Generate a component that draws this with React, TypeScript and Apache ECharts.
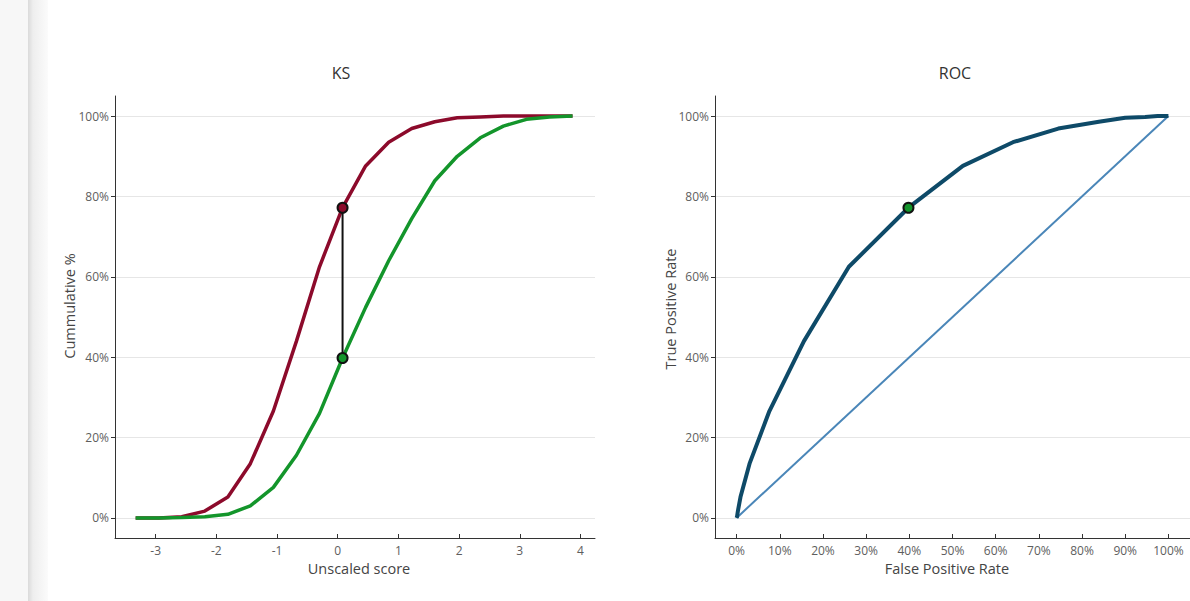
import React, { useEffect, useRef } from "react";
import * as echarts from "echarts";

const scores = [-3.33, -2.95, -2.57, -2.19, -1.81, -1.44, -1.06, -0.68, -0.3, 0.08, 0.46, 0.84, 1.22, 1.6, 1.97, 2.35, 2.73, 3.11, 3.49, 3.87];
const badCum = [0, 0, 0.3, 1.7, 5.2, 13.5, 26.6, 44, 62.5, 77.2, 87.6, 93.5, 96.9, 98.6, 99.6, 99.8, 100, 100, 100, 100];
const goodCum = [0, 0, 0.1, 0.3, 0.9, 3, 7.6, 15.6, 26, 39.8, 52.4, 64, 74.5, 83.9, 90, 94.6, 97.5, 99.2, 99.8, 100];
const ksIndex = 9;
const scoreTicks = [-3, -2, -1, 0, 1, 2, 3, 4];
const pctTicksY = [0, 20, 40, 60, 80, 100];
const pctTicksX = [0, 10, 20, 30, 40, 50, 60, 70, 80, 90, 100];
const diagonal = [[0, 0], [100, 100]];

const RED = "#8c0a2b";
const GREEN = "#13952b";
const ROC = "#0e4a68";
const DIAG = "#4a86b8";
const FONT = "'Open Sans', Roboto, sans-serif";

export default function App() {
  const ref = useRef<HTMLDivElement>(null);
  useEffect(() => {
    if (!ref.current) return;
    const chart = echarts.init(ref.current, undefined, { renderer: "svg" });
    const pctFmt = (v: number) => v + "%";
    const yAxisBase = (gridIndex: number) => ({
      type: "value",
      gridIndex,
      min: -5,
      max: 105,
      axisLine: { show: true, onZero: false, lineStyle: { color: "#333", width: 1 } },
      axisTick: { show: true, inside: false, length: 4, customValues: pctTicksY, lineStyle: { color: "#333" } },
      axisLabel: { customValues: pctTicksY, formatter: pctFmt, color: "#5e5e5e", fontSize: 12, fontFamily: FONT, margin: 6 },
      splitLine: { show: true, lineStyle: { color: "#e6e6e6", width: 1 } },
    });
    const ksPoint = [scores[ksIndex], badCum[ksIndex]];
    const ksPointG = [scores[ksIndex], goodCum[ksIndex]];
    const rocData = goodCum.map((g, i) => [g, badCum[i]]);
    chart.setOption({
      animation: false,
      backgroundColor: "#fff",
      grid: [
        { left: 115, top: 96, width: 480, height: 442 },
        { left: 715, top: 96, width: 480, height: 442 },
      ],
      xAxis: [
        {
          type: "value",
          gridIndex: 0,
          min: -3.67,
          max: 4.24,
          axisLine: { show: true, onZero: false, lineStyle: { color: "#333", width: 1 } },
          axisTick: { show: true, inside: true, length: 4, customValues: scoreTicks, lineStyle: { color: "#333" } },
          axisLabel: { customValues: scoreTicks, color: "#5e5e5e", fontSize: 12, fontFamily: FONT, margin: 5, lineHeight: 14 },
          splitLine: { show: false },
        },
        {
          type: "value",
          gridIndex: 1,
          min: -5,
          max: 105,
          axisLine: { show: true, onZero: false, lineStyle: { color: "#333", width: 1 } },
          axisTick: { show: true, inside: true, length: 4, customValues: pctTicksX, lineStyle: { color: "#333" } },
          axisLabel: { customValues: pctTicksX, formatter: pctFmt, color: "#5e5e5e", fontSize: 12, fontFamily: FONT, margin: 5, lineHeight: 14 },
          splitLine: { show: false },
        },
      ],
      yAxis: [yAxisBase(0), yAxisBase(1)],
      graphic: [
        { type: "rect", shape: { x: 0, y: 0, width: 28, height: 601 }, style: { fill: "#f7f7f7" }, silent: true },
        {
          type: "rect",
          shape: { x: 28, y: 0, width: 20, height: 601 },
          style: {
            fill: new echarts.graphic.LinearGradient(0, 0, 1, 0, [
              { offset: 0, color: "#dadada" },
              { offset: 0.25, color: "#eeeeee" },
              { offset: 1, color: "#fbfbfb" },
            ]),
          },
          silent: true,
        },
        { type: "text", x: 341, y: 73, style: { text: "KS", fontSize: 16, fill: "#333", fontFamily: FONT, align: "center", verticalAlign: "middle" } },
        { type: "text", x: 955, y: 73, style: { text: "ROC", fontSize: 16, fill: "#333", fontFamily: FONT, align: "center", verticalAlign: "middle" } },
        { type: "text", x: 359, y: 568, style: { text: "Unscaled score", fontSize: 14.5, lineHeight: 15, fill: "#444", fontFamily: FONT, align: "center", verticalAlign: "middle" } },
        { type: "text", x: 947, y: 568, style: { text: "False Positive Rate", fontSize: 14.5, lineHeight: 15, fill: "#444", fontFamily: FONT, align: "center", verticalAlign: "middle" } },
        { type: "text", x: 69, y: 306, rotation: Math.PI / 2, style: { text: "Cummulative %", fontSize: 14.5, fill: "#444", fontFamily: FONT, align: "center", verticalAlign: "middle" } },
        { type: "text", x: 670, y: 309, rotation: Math.PI / 2, style: { text: "True Positive Rate", fontSize: 14.5, fill: "#444", fontFamily: FONT, align: "center", verticalAlign: "middle" } },
      ],
      series: [
        {
          type: "line",
          xAxisIndex: 0,
          yAxisIndex: 0,
          data: scores.map((s, i) => [s, badCum[i]]),
          showSymbol: false,
          lineStyle: { color: RED, width: 3.5 },
          z: 3,
        },
        {
          type: "line",
          xAxisIndex: 0,
          yAxisIndex: 0,
          data: scores.map((s, i) => [s, goodCum[i]]),
          showSymbol: false,
          lineStyle: { color: GREEN, width: 3.5 },
          z: 3,
        },
        {
          type: "line",
          xAxisIndex: 0,
          yAxisIndex: 0,
          data: [ksPointG, ksPoint],
          showSymbol: false,
          lineStyle: { color: "#111", width: 2 },
          z: 4,
        },
        {
          type: "scatter",
          xAxisIndex: 0,
          yAxisIndex: 0,
          data: [
            { value: ksPoint, itemStyle: { color: RED } },
            { value: ksPointG, itemStyle: { color: GREEN } },
          ],
          symbolSize: 10,
          itemStyle: { borderColor: "#111", borderWidth: 2, opacity: 1 },
          z: 5,
        },
        {
          type: "line",
          xAxisIndex: 1,
          yAxisIndex: 1,
          data: diagonal,
          showSymbol: false,
          lineStyle: { color: DIAG, width: 2 },
          z: 2,
        },
        {
          type: "line",
          xAxisIndex: 1,
          yAxisIndex: 1,
          data: rocData,
          showSymbol: false,
          lineStyle: { color: ROC, width: 4 },
          z: 3,
        },
        {
          type: "scatter",
          xAxisIndex: 1,
          yAxisIndex: 1,
          data: [{ value: rocData[ksIndex], itemStyle: { color: GREEN } }],
          symbolSize: 10,
          itemStyle: { borderColor: "#111", borderWidth: 2, opacity: 1 },
          z: 5,
        },
      ],
    });
    return () => chart.dispose();
  }, []);
  return (
    <div
      ref={ref}
      style={{ position: "absolute", left: 0, top: 0, width: 1190, height: 601 }}
    />
  );
}
